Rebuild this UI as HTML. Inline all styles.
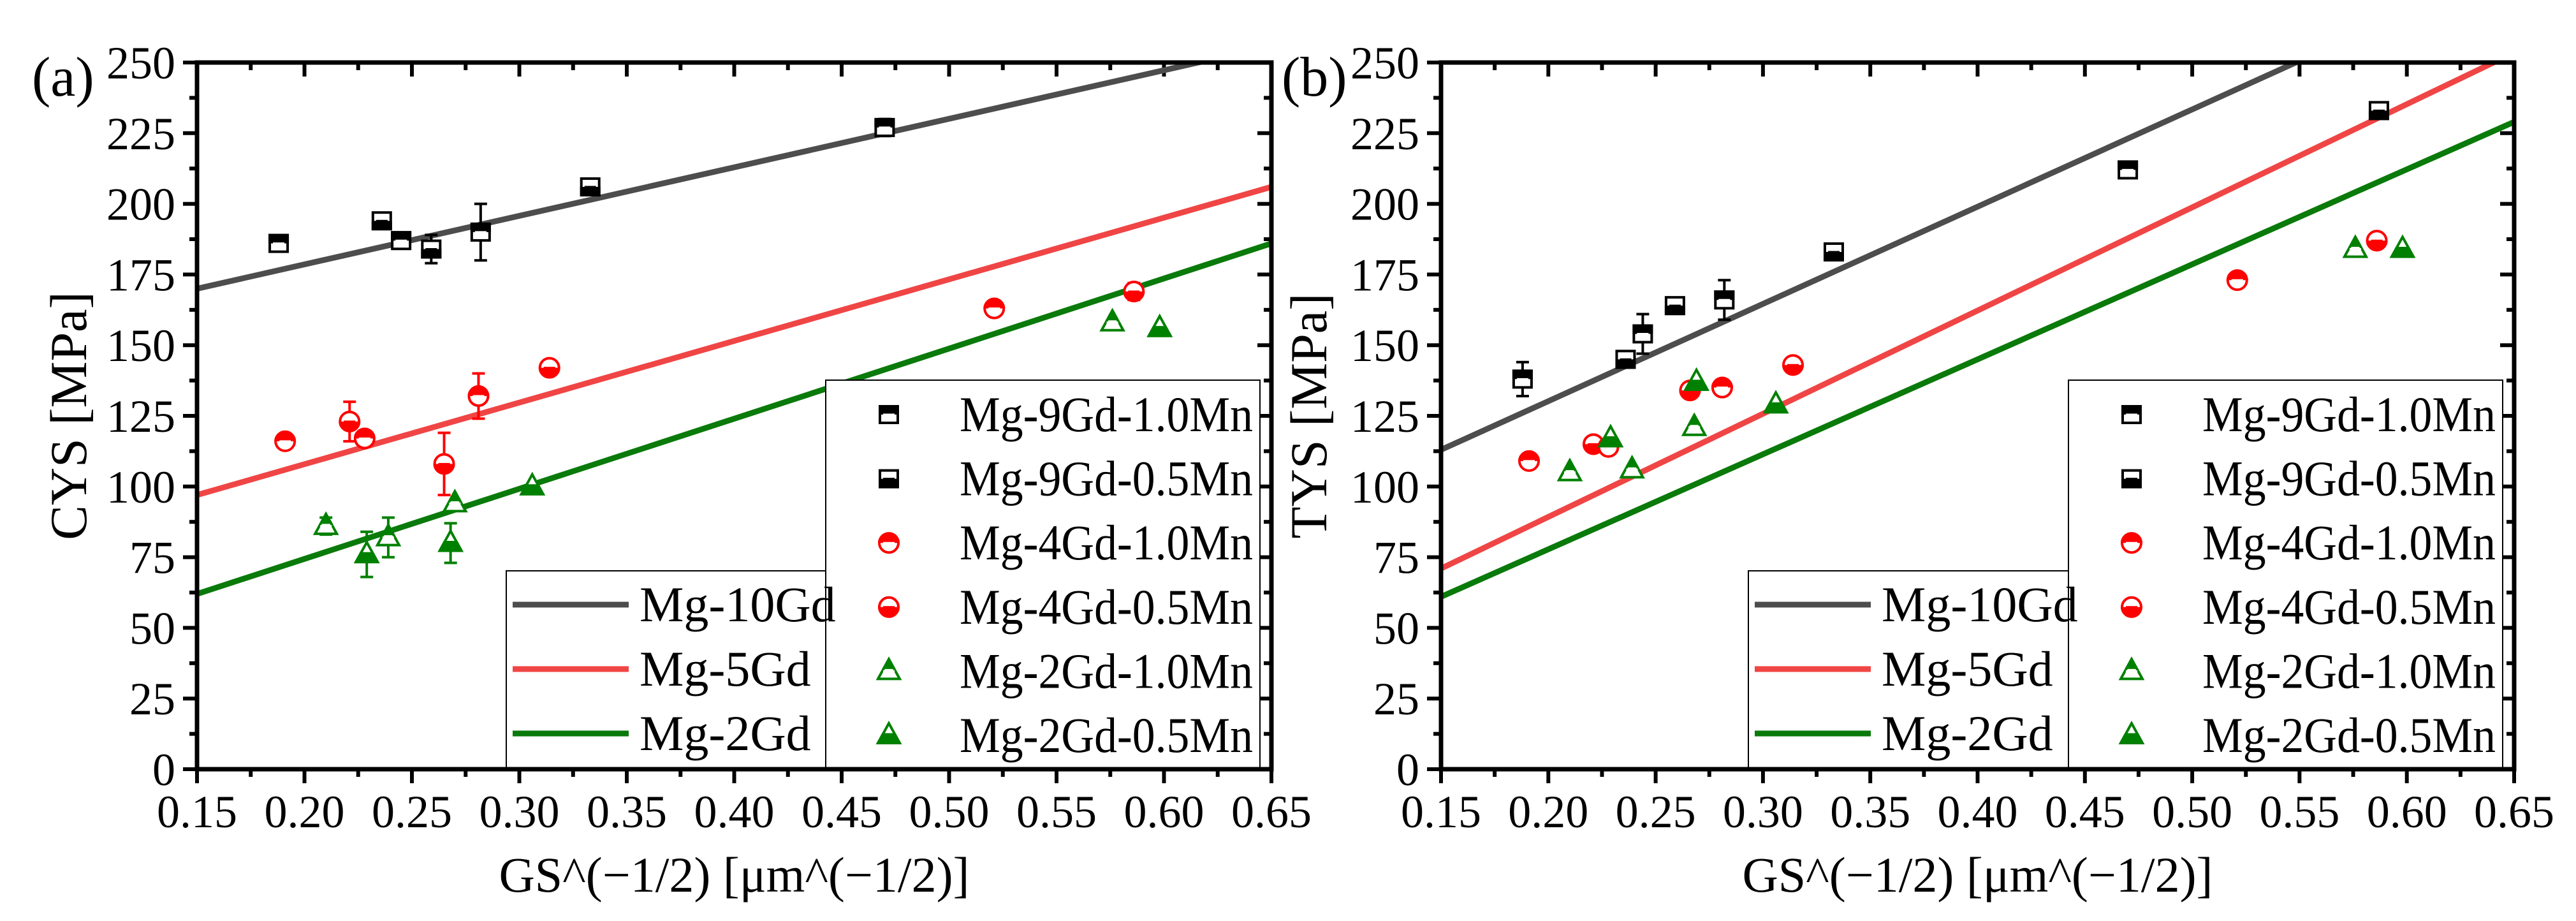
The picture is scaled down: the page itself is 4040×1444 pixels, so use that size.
<!DOCTYPE html>
<html><head><meta charset="utf-8">
<style>
html,body{margin:0;padding:0;background:#fff;}
svg{display:block;}
text{font-family:"Liberation Serif",serif;fill:#000;}
</style></head>
<body>
<svg id="fig" width="4040" height="1444" viewBox="0 0 4040 1444" xmlns="http://www.w3.org/2000/svg">
<defs>
<clipPath id="topHalf" clipPathUnits="objectBoundingBox"><rect x="-0.1" y="-0.1" width="1.2" height="0.6"/></clipPath>
<clipPath id="botHalf" clipPathUnits="objectBoundingBox"><rect x="-0.1" y="0.5" width="1.2" height="0.6"/></clipPath>
</defs>
</svg>
<script>
const xTicks=[0.15,0.20,0.25,0.30,0.35,0.40,0.45,0.50,0.55,0.60,0.65];
const yTicks=[0,25,50,75,100,125,150,175,200,225,250];
const xTickLabels=["0.15","0.20","0.25","0.30","0.35","0.40","0.45","0.50","0.55","0.60","0.65"];
const legendLabels=["Mg-9Gd-1.0Mn","Mg-9Gd-0.5Mn","Mg-4Gd-1.0Mn","Mg-4Gd-0.5Mn","Mg-2Gd-1.0Mn","Mg-2Gd-0.5Mn"];
const lineLabels=["Mg-10Gd","Mg-5Gd","Mg-2Gd"];
// Panel (a) fitted lines: [y at x=0.15, slope]
const aLineIntercepts=[170,97,62];
const aLineSlopes=[171.7,218,248];
// Panel (a) data
const aBlackX=[0.188,0.236,0.245,0.259,0.282,0.333,0.47];
const aBlackY=[186,194,187,184,190,206,227];
const aBlackErr=[0,0,0,5,10,2,3];
const aRedX=[0.191,0.221,0.228,0.265,0.281,0.314,0.521,0.586];
const aRedY=[116,123,117,108,132,142,163,169];
const aRedErr=[0,7,0,11,8,0,0,3];
const aGreenX=[0.21,0.229,0.239,0.268,0.27,0.306,0.576,0.598];
const aGreenY=[86,76,82,80,94,100,158,156];
const aGreenErr=[3,8,7,7,0,0,0,0];
// Panel (b)
const bLineIntercepts=[113,71,61];
const bLineSlopes=[344,365,336];
const bBlackX=[0.188,0.236,0.244,0.259,0.282,0.333,0.47,0.587];
const bBlackY=[138,145,154,164,166,183,212,233];
const bBlackErr=[6,0,7,0,7,2,0,0];
const bRedX=[0.191,0.221,0.228,0.266,0.281,0.314,0.521,0.586];
const bRedY=[109,115,114,134,135,143,173,187];
const bRedErr=[0,0,0,0,0,0,0,0];
const bGreenX=[0.21,0.229,0.239,0.269,0.268,0.306,0.576,0.598];
const bGreenY=[105,117,106,137,121,129,184,184];
const bGreenErr=[0,0,0,0,0,0,0,0];

const NS="http://www.w3.org/2000/svg";
const svg=document.getElementById('fig');
function el(tag,attrs,parent){const e=document.createElementNS(NS,tag);for(const k in attrs)e.setAttribute(k,attrs[k]);(parent||svg).appendChild(e);return e;}
const LINE_COL=["#4d4d4d","#f04545","#0a7a0a"];
const MK_COL=["#000000","#ff0000","#008000"];

function panel(cfg){
  const g=el('g',{});
  
  
  const L=cfg.left,R=cfg.right,T=98,B=1206;
  const sx=v=>L+(v-0.15)/0.5*(R-L);
  const sy=v=>B-v/250*(B-T);
  const cid='clip'+cfg.id;
  const cp=el('clipPath',{id:cid},g);el('rect',{x:L,y:T,width:R-L,height:B-T},cp);
  const tg=el('g',{stroke:'#000','stroke-width':6},g);
  
  
  xTicks.forEach((v,i)=>{
    const x=sx(v);
    el('line',{x1:x,y1:B,x2:x,y2:B+22},tg);
    el('line',{x1:x,y1:T,x2:x,y2:T+22},tg);
    if(i<xTicks.length-1){const xm=sx(v+0.025);
      el('line',{x1:xm,y1:B,x2:xm,y2:B+12},tg);el('line',{x1:xm,y1:T,x2:xm,y2:T+12},tg);}
    const t=el('text',{x:x,y:1297,'font-size':72,'text-anchor':'middle'},g);t.textContent=xTickLabels[i];
    
    
  });
  yTicks.forEach((v,i)=>{
    const y=sy(v);
    el('line',{x1:L-22,y1:y,x2:L,y2:y},tg);
    el('line',{x1:R-22,y1:y,x2:R,y2:y},tg);
    if(i<yTicks.length-1){const ym=sy(v+12.5);
      el('line',{x1:L-12,y1:ym,x2:L,y2:ym},tg);el('line',{x1:R-12,y1:ym,x2:R,y2:ym},tg);}
    const t=el('text',{x:L-34,y:y+25,'font-size':72,'text-anchor':'end'},g);t.textContent=String(v);
    
    
  });
  const ints=cfg.ints,slopes=cfg.slopes;
  ints.forEach((b0,i)=>{
    const f=x=>b0+slopes[i]*(x-0.15);
    const ln=el('line',{x1:sx(0.15),y1:sy(f(0.15)),x2:sx(0.65),y2:sy(f(0.65)),stroke:LINE_COL[i],'stroke-width':9,'clip-path':'url(#'+cid+')'},g);
    
    
  });
  const sets=[[cfg.bx,cfg.by,cfg.be,'square'],[cfg.rx,cfg.ry,cfg.re,'circle'],[cfg.gx,cfg.gy,cfg.ge,'triangle']];
  sets.forEach((s,si)=>{
    const [xs,ys,es,shape]=s;
    xs.forEach((xv,k)=>{
      const cx=sx(xv),cy=sy(ys[k]);
      const pg=el('g',{},g);
      
      
      if(es[k]>0){
        const e1=sy(ys[k]+es[k]),e2=sy(ys[k]-es[k]);
        el('line',{x1:cx,y1:e1,x2:cx,y2:e2,stroke:MK_COL[si],'stroke-width':4},pg);
        el('line',{x1:cx-10,y1:e1,x2:cx+10,y2:e1,stroke:MK_COL[si],'stroke-width':4},pg);
        el('line',{x1:cx-10,y1:e2,x2:cx+10,y2:e2,stroke:MK_COL[si],'stroke-width':4},pg);
      }
      marker(pg,shape,cx,cy,MK_COL[si],k%2===0?'topHalf':'botHalf');
    });
  });
  const lb=el('rect',{x:cfg.lineBox,y:895,width:cfg.markBox-cfg.lineBox,height:B-895,fill:'#fff',stroke:'#000','stroke-width':2},g);
  
  
  const mb=el('rect',{x:cfg.markBox,y:596,width:R-18-cfg.markBox,height:B-596,fill:'#fff',stroke:'#000','stroke-width':2},g);
  
  
  lineLabels.forEach((lab,i)=>{
    const y=948+i*101;
    const ll=el('line',{x1:cfg.lineBox+10,y1:y,x2:cfg.lineBox+192,y2:y,stroke:LINE_COL[i],'stroke-width':9},g);
    
    
    const t=el('text',{x:cfg.lineBox+209,y:y+26,'font-size':78},g);t.textContent=lab;
    
    
  });
  legendLabels.forEach((lab,i)=>{
    const y=650+i*100.6;
    const shape=['square','square','circle','circle','triangle','triangle'][i];
    const mg=el('g',{},g);
    
    
    marker(mg,shape,cfg.markBox+99,y,MK_COL[Math.floor(i/2)],i%2===0?'topHalf':'botHalf');
    const t=el('text',{x:cfg.markBox+210,y:y+26,'font-size':78,textLength:460,lengthAdjust:'spacingAndGlyphs'},g);t.textContent=lab;
    
    
  });
  const fr=el('rect',{x:L,y:T,width:R-L,height:B-T,fill:'none',stroke:'#000','stroke-width':7},g);
  
  
  const xt=el('text',{x:(L+R)/2,y:1398,'font-size':78,'text-anchor':'middle'},g);xt.textContent='GS^(\u22121/2) [\u03bcm^(\u22121/2)]';
  
  
  const yt=el('text',{x:0,y:0,'font-size':82,'text-anchor':'middle',transform:'translate('+cfg.ytx+',652) rotate(-90)'},g);yt.textContent=cfg.ytitle;
  
  
  const pl=el('text',{x:cfg.plx,y:150,'font-size':88},g);pl.textContent=cfg.plabel;
  
  
}
function marker(parent,shape,cx,cy,col,half){
  let base,attrs;
  if(shape==='square'){base='rect';attrs={x:cx-14,y:cy-13,width:28,height:26};}
  else if(shape==='circle'){base='circle';attrs={cx:cx,cy:cy,r:15};}
  else{base='polygon';attrs={points:(cx)+','+(cy-19)+' '+(cx-17)+','+(cy+12)+' '+(cx+17)+','+(cy+12)};}
  const a=Object.assign({},attrs,{fill:'#fff',stroke:col,'stroke-width':4});
  el(base,a,parent);
  const f=Object.assign({},attrs,{fill:col,stroke:col,'stroke-width':4,'clip-path':'url(#'+half+')'});
  el(base,f,parent);
  el('line',{x1:cx-9,y1:cy,x2:cx+9,y2:cy,stroke:half==='topHalf'?'#fff':col,'stroke-width':3},parent);
}
panel({id:'a',name:'panel-a',left:309,right:1994,ints:aLineIntercepts,slopes:aLineSlopes,
  bx:aBlackX,by:aBlackY,be:aBlackErr,rx:aRedX,ry:aRedY,re:aRedErr,gx:aGreenX,gy:aGreenY,ge:aGreenErr,
  lineBox:794,markBox:1295,ytitle:'CYS [MPa]',ytx:135,plabel:'(a)',plx:50});
panel({id:'b',name:'panel-b',left:2260,right:3943,ints:bLineIntercepts,slopes:bLineSlopes,
  bx:bBlackX,by:bBlackY,be:bBlackErr,rx:bRedX,ry:bRedY,re:bRedErr,gx:bGreenX,gy:bGreenY,ge:bGreenErr,
  lineBox:2742,markBox:3244,ytitle:'TYS [MPa]',ytx:2080,plabel:'(b)',plx:2010});
</script>
</body></html>
